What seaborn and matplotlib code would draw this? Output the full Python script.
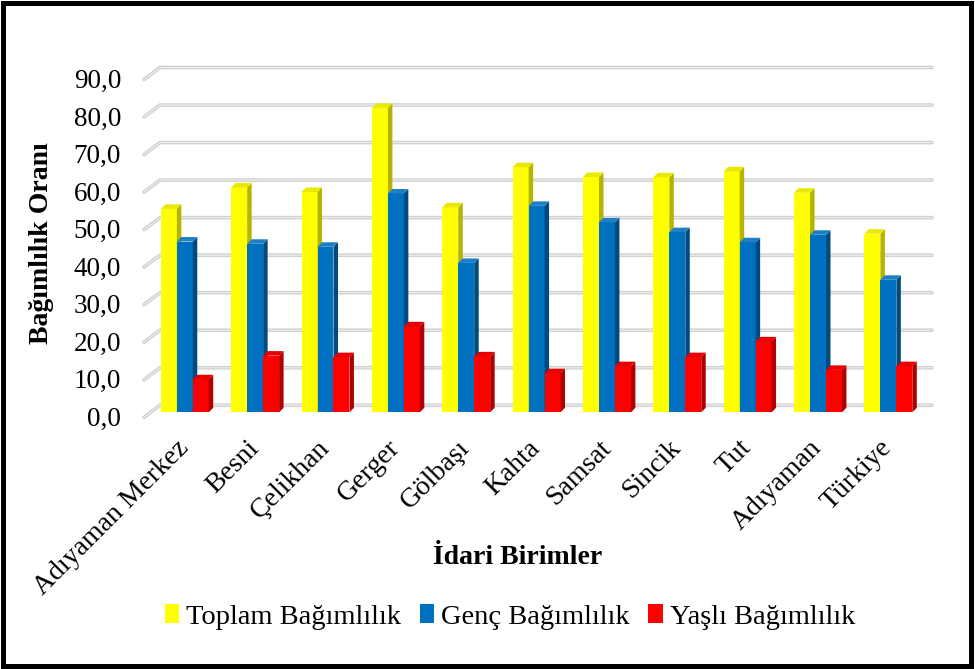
import numpy as np
import pandas as pd
import matplotlib
matplotlib.use("Agg")
import matplotlib.pyplot as plt
import matplotlib.transforms as mtransforms
from matplotlib.patches import Polygon, Rectangle, Patch
from matplotlib.lines import Line2D
import seaborn as sns

# --- data -------------------------------------------------------------
birimler = ["Adıyaman Merkez", "Besni", "Çelikhan", "Gerger", "Gölbaşı", "Kahta",
            "Samsat", "Sincik", "Tut", "Adıyaman", "Türkiye"]
toplam = [54.2, 59.9, 58.7, 81.1, 54.6, 65.3, 62.7, 62.6, 64.2, 58.5, 47.6]
genc = [45.5, 44.9, 44.1, 58.3, 39.8, 55.0, 50.6, 48.0, 45.3, 47.3, 35.3]
yasli = [8.8, 15.1, 14.7, 22.9, 14.9, 10.4, 12.3, 14.7, 18.9, 11.3, 12.3]
seriler = ["Toplam Bağımlılık", "Genç Bağımlılık", "Yaşlı Bağımlılık"]
y_degerleri = list(range(0, 91, 10))

# --- style ------------------------------------------------------------
renkler = ["#FFFF00", "#0070C0", "#FF0000"]
yan_renkler = ["#B5B500", "#004A80", "#B00000"]
ust_renkler = ["#E8E800", "#1F7FC4", "#E60000"]

sns.set_theme(style="white")
plt.rcParams["font.family"] = ["Liberation Serif", "DejaVu Serif"]
plt.rcParams["text.color"] = "black"
plt.rcParams["xtick.color"] = "black"
plt.rcParams["ytick.color"] = "black"
FS = 19.5

df = pd.DataFrame({
    "Birim": birimler * 3,
    "Oran": toplam + genc + yasli,
    "Seri": np.repeat(seriler, len(birimler)),
})

W, H = 975, 669
fig = plt.figure(figsize=(W / 100, H / 100), dpi=100)
fig.patch.set_facecolor("white")
ax = fig.add_axes([144 / W, 256.7 / H, 788 / W, 337.8 / H])

sns.barplot(data=df, x="Birim", y="Oran", hue="Seri", order=birimler,
            hue_order=seriler, palette=renkler, saturation=1, width=0.68,
            edgecolor="none", linewidth=0, legend=False, ax=ax)

ax.set_xlim(-0.58, 10.62)
ax.set_ylim(0, 90)
for s in ax.spines.values():
    s.set_visible(False)
ax.set_xlabel("")
ax.set_ylabel("")
ax.grid(False)
ax.set_facecolor("none")

# Fix layout before converting to pixel space
fig.canvas.draw()
ident = mtransforms.IdentityTransform()

# 3D-style faces for each column: side face on the right and a top face
D = 4.5
for k, cont in enumerate(ax.containers):
    for bar in cont:
        bar.set_zorder(3 + k)
        x0, y0 = ax.transData.transform((bar.get_x(), 0))
        x1, y1 = ax.transData.transform((bar.get_x() + bar.get_width(), bar.get_height()))
        side = Polygon([(x1, y0), (x1, y1), (x1 + D, y1 + D), (x1 + D, y0 + D)],
                       closed=True, facecolor=yan_renkler[k], edgecolor="none",
                       transform=ident, zorder=3 + k, clip_on=False)
        top = Polygon([(x0, y1), (x1, y1), (x1 + D, y1 + D), (x0 + D, y1 + D)],
                      closed=True, facecolor=ust_renkler[k], edgecolor="none",
                      transform=ident, zorder=3 + k, clip_on=False)
        ax.add_artist(side)
        ax.add_artist(top)

# Gridlines on the back wall with a short diagonal on the side wall
left_px = ax.transAxes.transform((0, 0))[0]
right_px = ax.transAxes.transform((1, 0))[0]
for v in y_degerleri:
    yv = ax.transData.transform((0, v))[1]
    xs = [left_px, left_px + 16, right_px]
    ys = [yv - 5, yv + 7, yv + 7]
    ax.add_line(Line2D(xs, ys, transform=ident, color="#CFCFCF", lw=2.6,
                       zorder=1, clip_on=False, solid_capstyle="round"))
    ax.add_line(Line2D(xs, ys, transform=ident, color="#EFEFEF", lw=0.8,
                       zorder=1.1, clip_on=False))

# Y ticks
ax.set_yticks(y_degerleri)
ax.set_yticklabels([f"{v:.1f}".replace(".", ",") for v in y_degerleri], fontsize=FS)
ax.tick_params(axis="y", length=0, pad=16.5)
off_y = mtransforms.ScaledTranslation(0, -0.04, fig.dpi_scale_trans)
for lab in ax.get_yticklabels():
    lab.set_transform(lab.get_transform() + off_y)

# X ticks
ax.set_xticks(range(len(birimler)))
ax.set_xticklabels(birimler, rotation=45, ha="right", va="center",
                   rotation_mode="anchor", fontsize=FS + 0.5)
ax.tick_params(axis="x", length=0, pad=23)
off_x = mtransforms.ScaledTranslation(0.0, 0, fig.dpi_scale_trans)
for lab in ax.get_xticklabels():
    lab.set_transform(lab.get_transform() + off_x)

# Axis titles
fig.text(518 / W, 1 - 558 / H, "İdari Birimler", ha="center", va="center",
         fontsize=FS + 0.5, fontweight="bold")
fig.text(41.7 / W, 1 - 243 / H, "Bağımlılık Oranı", ha="center", va="center",
         rotation=90, fontsize=FS + 0.5, fontweight="bold")

# Legend
handles = [Patch(facecolor=c, edgecolor="none", label=s) for c, s in zip(renkler, seriler)]
fig.legend(handles=handles, loc="center", bbox_to_anchor=(510 / W, 1 - 617 / H),
           ncol=3, frameon=False, fontsize=FS + 1, handlelength=0.5,
           handleheight=0.65, handletextpad=0.25, columnspacing=0.65)

# Outer frame
fig.patches.append(Rectangle((3 / W, 3.5 / H), 967.5 / W, 662.5 / H,
                             transform=fig.transFigure, fill=False,
                             lw=3.6, edgecolor="black", zorder=10))

fig.savefig("out.png", dpi=100, facecolor="white")
